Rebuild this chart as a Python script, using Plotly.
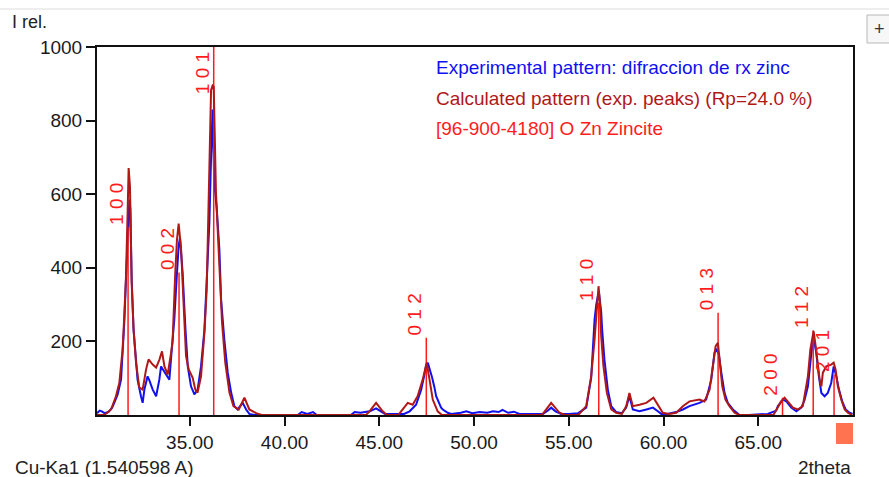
import plotly.graph_objects as go

# ---------------- data ----------------
exp_two_theta = [30.10, 30.25, 30.35, 30.50, 30.70, 30.90, 31.01, 31.19, 31.37, 31.45, 31.54, 31.63,
                 31.72, 31.77, 31.81, 31.86, 31.93, 32.03, 32.16, 32.24, 32.42, 32.51, 32.60, 32.77,
                 32.86, 33.04, 33.22, 33.39, 33.48, 33.57, 33.71, 33.83, 33.92, 34.06, 34.18, 34.30,
                 34.41, 34.48, 34.62, 34.77, 34.89, 35.06, 35.24, 35.41, 35.59, 35.77, 35.89, 36.03,
                 36.12, 36.20, 36.29, 36.42, 36.56, 36.65, 36.82, 37.00, 37.18, 37.35, 37.52, 37.70,
                 37.79, 37.97, 38.14, 38.40, 40.70, 40.90, 41.20, 41.50, 41.70, 43.50, 43.70, 44.00,
                 44.30, 44.50, 44.83, 45.10, 45.30, 46.30, 46.60, 46.94, 47.12, 47.21, 47.38, 47.47,
                 47.56, 47.65, 47.79, 47.91, 48.00, 48.26, 48.35, 48.61, 48.80, 49.30, 49.60, 49.90,
                 50.30, 50.70, 51.00, 51.30, 51.50, 51.80, 52.10, 52.40, 53.63, 53.90, 54.07, 54.30,
                 54.60, 55.00, 55.50, 55.92, 56.18, 56.27, 56.36, 56.45, 56.53, 56.60, 56.71, 56.76,
                 56.88, 57.06, 57.24, 57.50, 57.80, 58.03, 58.20, 58.38, 58.73, 59.10, 59.44, 59.70,
                 59.88, 60.20, 60.67, 61.02, 61.37, 61.90, 62.25, 62.52, 62.69, 62.78, 62.92, 63.05,
                 63.22, 63.39, 63.66, 64.01, 64.50, 65.50, 65.95, 66.03, 66.30, 66.48, 66.74, 67.01,
                 67.27, 67.44, 67.62, 67.75, 67.85, 67.94, 68.06, 68.20, 68.33, 68.50, 68.67, 68.85,
                 68.98, 69.12, 69.26, 69.43, 69.61, 69.82, 69.98]
exp_intensity = [5, 12, 10, 5, 8, 20, 33, 56, 96, 160, 251, 368,
                 470, 549, 585, 560, 368, 232, 142, 96, 51, 33, 69, 105,
                 95, 69, 51, 96, 132, 125, 115, 105, 96, 187, 259, 368,
                 460, 482, 386, 232, 132, 78, 56, 69, 132, 232, 360, 522,
                 700, 830, 630, 560, 449, 313, 205, 115, 61, 24, 15, 25,
                 33, 15, 3, 0, 0, 8, 3, 8, 0, 0, 8, 6,
                 8, 10, 18, 8, 3, 3, 10, 28, 56, 69, 110, 135,
                 142, 128, 101, 75, 51, 20, 15, 6, 3, 6, 10, 5,
                 8, 6, 10, 8, 14, 6, 9, 3, 3, 12, 20, 10,
                 3, 3, 5, 20, 100, 178, 259, 300, 322, 330, 280, 232,
                 151, 69, 24, 8, 5, 20, 51, 15, 10, 15, 20, 10,
                 3, 3, 8, 15, 24, 33, 42, 96, 169, 180, 164, 115,
                 60, 33, 15, 0, 0, 3, 12, 24, 42, 37, 20, 10,
                 20, 40, 78, 142, 187, 205, 169, 105, 60, 51, 60, 87,
                 132, 105, 69, 37, 15, 6, 3]

calc_two_theta = [30.10, 30.49, 30.84, 31.10, 31.28, 31.45, 31.54, 31.63, 31.72, 31.77, 31.84, 31.86,
                  31.93, 32.03, 32.16, 32.33, 32.51, 32.69, 32.82, 33.04, 33.13, 33.22, 33.39, 33.53,
                  33.66, 33.83, 34.01, 34.09, 34.23, 34.32, 34.41, 34.54, 34.66, 34.80, 34.94, 35.15,
                  35.29, 35.41, 35.59, 35.77, 35.89, 35.99, 36.12, 36.20, 36.26, 36.38, 36.52, 36.70,
                  36.87, 37.09, 37.30, 37.58, 37.88, 38.14, 38.50, 38.80, 44.30, 44.48, 44.83, 45.18,
                  45.40, 46.00, 46.15, 46.50, 46.76, 47.02, 47.29, 47.50, 47.65, 47.82, 48.08, 48.30,
                  53.50, 53.63, 54.07, 54.51, 54.80, 55.50, 55.92, 56.18, 56.36, 56.45, 56.53, 56.57,
                  56.65, 56.71, 56.83, 57.01, 57.24, 57.50, 57.80, 58.03, 58.20, 58.38, 58.73, 59.09,
                  59.47, 59.70, 59.96, 60.30, 60.67, 61.02, 61.37, 61.90, 62.16, 62.43, 62.60, 62.75,
                  62.87, 62.96, 63.10, 63.27, 63.48, 63.75, 64.00, 65.80, 65.95, 66.21, 66.39, 66.56,
                  66.83, 67.09, 67.35, 67.44, 67.62, 67.75, 67.85, 67.92, 68.03, 68.15, 68.24, 68.33,
                  68.41, 68.59, 68.85, 68.98, 69.08, 69.20, 69.38, 69.56, 69.73, 69.95]
calc_intensity = [0, 0, 15, 51, 88, 178, 268, 377, 560, 671, 620, 540,
                  360, 232, 142, 75, 69, 124, 151, 137, 132, 129, 150, 173,
                  132, 110, 169, 200, 386, 476, 520, 449, 313, 160, 124, 101,
                  69, 61, 105, 224, 341, 621, 883, 895, 892, 603, 458, 251,
                  142, 61, 24, 15, 47, 15, 5, 0, 0, 10, 33, 10,
                  0, 0, 10, 33, 28, 51, 96, 142, 96, 42, 10, 0,
                  0, 3, 33, 6, 0, 0, 24, 105, 205, 268, 341, 350,
                  300, 214, 132, 60, 15, 6, 3, 24, 60, 24, 28, 33,
                  47, 28, 6, 3, 6, 24, 37, 42, 37, 69, 132, 187,
                  196, 151, 78, 42, 24, 6, 0, 0, 15, 37, 47, 37,
                  20, 15, 24, 51, 105, 178, 214, 228, 187, 142, 96, 78,
                  115, 132, 137, 142, 124, 78, 42, 15, 6, 0]

peak_hkl = ["1 0 0", "0 0 2", "1 0 1", "0 1 2", "1 1 0", "0 1 3", "2 0 0", "1 1 2", "2 0 1"]
peak_two_theta = [31.74, 34.43, 36.26, 47.48, 56.58, 62.88, 66.28, 67.90, 69.00]
peak_intensity = [510, 387, 1000, 210, 305, 278, 47, 230, 110]

y_ticks = [200, 400, 600, 800, 1000]
x_ticks = [35, 40, 45, 50, 55, 60, 65]

legend_lines = ["Experimental pattern: difraccion de rx zinc",
                "Calculated pattern (exp. peaks) (Rp=24.0 %)",
                "[96-900-4180] O Zn Zincite"]

# ---------------- figure ----------------
W, H = 889, 477
ML, MR, MT, MB = 97, 36, 47, 62
PW, PH = W - ML - MR, H - MT - MB
FONT = "Liberation Sans"
FS = 19

BLUE = "#1010F0"
DARKRED = "#B01818"
RED = "#FF1C1C"

def px2paper_x(px):
    return (px - ML) / PW

def py2paper_y(py):
    return (H - MB - py) / PH

fig = go.Figure()

# reference sticks built from the peak arrays
stick_x, stick_y = [], []
for t, h in zip(peak_two_theta, peak_intensity):
    stick_x += [t, t, None]
    stick_y += [0, h, None]

fig.add_trace(go.Scatter(x=exp_two_theta, y=exp_intensity, mode="lines",
                         line=dict(color=BLUE, width=2), hoverinfo="skip"))
fig.add_trace(go.Scatter(x=stick_x, y=stick_y, mode="lines",
                         line=dict(color=RED, width=1.5), hoverinfo="skip"))
fig.add_trace(go.Scatter(x=calc_two_theta, y=calc_intensity, mode="lines",
                         line=dict(color=DARKRED, width=2), hoverinfo="skip"))

annotations = []
for lab, t, h in zip(peak_hkl, peak_two_theta, peak_intensity):
    top = h > 870
    annotations.append(dict(x=t, y=(1000 if top else h), xref="x", yref="y",
                            text=lab, textangle=-90, showarrow=False,
                            xanchor="right", yanchor=("top" if top else "bottom"),
                            xshift=1, yshift=(-3 if top else 0),
                            font=dict(family=FONT, size=19, color=RED)))

legend_colors = [BLUE, DARKRED, RED]
legend_py = [67, 98, 128]
for txt, col, py in zip(legend_lines, legend_colors, legend_py):
    annotations.append(dict(x=px2paper_x(434), y=py2paper_y(py), xref="paper", yref="paper",
                            text=txt, showarrow=False, xanchor="left", yanchor="middle",
                            font=dict(family=FONT, size=FS, color=col)))

annotations += [
    dict(x=px2paper_x(10), y=py2paper_y(22), xref="paper", yref="paper", text="I rel.",
         showarrow=False, xanchor="left", yanchor="middle",
         font=dict(family=FONT, size=18, color="#222222")),
    dict(x=px2paper_x(13), y=py2paper_y(467), xref="paper", yref="paper",
         text="Cu-Ka1 (1.540598 A)", showarrow=False, xanchor="left", yanchor="middle",
         font=dict(family=FONT, size=FS, color="#222222")),
    dict(x=px2paper_x(853), y=py2paper_y(467), xref="paper", yref="paper",
         text="2theta", showarrow=False, xanchor="right", yanchor="middle",
         font=dict(family=FONT, size=FS, color="#222222")),
    dict(x=px2paper_x(879), y=py2paper_y(29), xref="paper", yref="paper",
         text="+", showarrow=False, xanchor="center", yanchor="middle",
         font=dict(family=FONT, size=18, color="#333333")),
]

shapes = [
    # orange marker square under the axis end
    dict(type="rect", xref="paper", yref="paper",
         x0=px2paper_x(836), x1=px2paper_x(853), y0=py2paper_y(444), y1=py2paper_y(423),
         fillcolor="#FF7350", line=dict(width=0)),
    # small "+" button at top right
    dict(type="rect", xref="paper", yref="paper",
         x0=px2paper_x(867), x1=px2paper_x(895), y0=py2paper_y(43), y1=py2paper_y(15),
         fillcolor="#F7F7F7", line=dict(color="#B8B8B8", width=1)),
    # faint band at the very top
    dict(type="line", xref="paper", yref="paper",
         x0=px2paper_x(0), x1=px2paper_x(889), y0=py2paper_y(9), y1=py2paper_y(9),
         line=dict(color="#EEEEEE", width=2)),
]

fig.update_layout(
    width=W, height=H,
    margin=dict(l=ML, r=MR, t=MT, b=MB, pad=0),
    paper_bgcolor="white", plot_bgcolor="white",
    showlegend=False,
    font=dict(family=FONT, size=FS, color="#1a1a1a"),
    annotations=annotations,
    shapes=shapes,
)
fig.update_xaxes(range=[30.1, 70.0], tickvals=x_ticks, ticktext=[f"{v:.2f}" for v in x_ticks],
                 ticks="outside", ticklen=9, tickwidth=1.5, tickcolor="#111111",
                 showline=True, linecolor="#111111", linewidth=2, mirror=True,
                 showgrid=False, zeroline=False, tickfont=dict(family=FONT, size=FS, color="#1a1a1a"))
fig.update_yaxes(range=[0, 1000], tickvals=y_ticks, ticktext=[str(v) for v in y_ticks],
                 ticks="outside", ticklen=9, tickwidth=1.5, tickcolor="#111111",
                 showline=True, linecolor="#111111", linewidth=2, mirror=True,
                 showgrid=False, zeroline=False, tickfont=dict(family=FONT, size=FS, color="#1a1a1a"))

fig.write_html("out.html", config={"displayModeBar": False},
               post_script="document.body.style.margin='0';document.body.style.overflow='hidden';")
